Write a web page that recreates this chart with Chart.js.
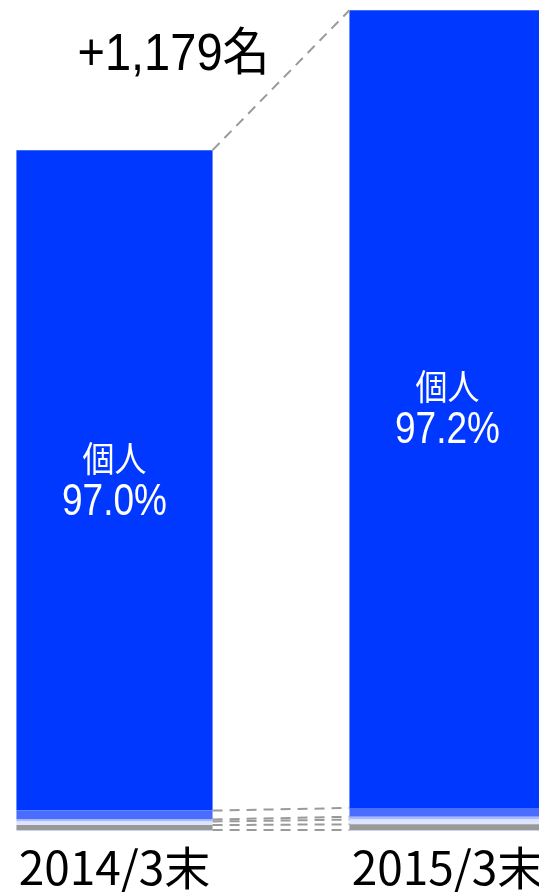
<!DOCTYPE html>
<html>
<head>
<meta charset="utf-8">
<script src="https://cdn.jsdelivr.net/npm/chart.js@4"></script>
<style>
  html, body { margin: 0; padding: 0; background: #fff; overflow: hidden; }
  body { width: 539px; height: 892px; position: relative; }
  /* chart is wider than the page: the right bar is cut off at the edge */
  #wrap { position: absolute; left: -52px; top: 0; width: 666px; height: 892px; }
</style>
</head>
<body>
<div id="wrap"><canvas id="holderChart"></canvas></div>
<script>
// ========================
// DATA (shareholders, persons)
// ========================
const periods = ['2014/3末', '2015/3末'];

// stacked bottom -> top
const selfHeld    = [8, 8];
const foreign     = [42, 48];
const otherCorp   = [30, 40];
const securities  = [17, 24];
const financial   = [75, 74];
const individuals = [5563, 6720];

const yMax = 7000;

const segColors = ['#c9d3f2', '#999999', '#dde4ff', '#a9b9ff', '#4a6dff', '#0038ff'];

// draw text stretched vertically (reference glyphs are taller than wide)
function tallText(ctx, text, x, y, sy) {
  ctx.save();
  ctx.translate(x, y);
  ctx.scale(1, sy);
  ctx.fillText(text, 0, 0);
  ctx.restore();
}

// ========================
// PLUGIN: dashed connectors + labels
// ========================
const connectorPlugin = {
  id: 'connectors',
  afterDatasetsDraw(chart) {
    const ctx = chart.ctx;
    const n = chart.data.datasets.length;

    ctx.save();
    ctx.strokeStyle = '#9a9a9a';
    ctx.lineWidth = 2;
    ctx.setLineDash([10, 7]);
    for (let i = 0; i < n; i++) {
      const meta = chart.getDatasetMeta(i);
      const a = meta.data[0], b = meta.data[1];
      ctx.beginPath();
      ctx.moveTo(a.x + a.width / 2, a.y);
      ctx.lineTo(b.x - b.width / 2, b.y);
      ctx.stroke();
    }
    ctx.restore();

    // labels inside the individuals segment
    const top = chart.getDatasetMeta(n - 1);
    const totals = periods.map((p, i) => chart.data.datasets.reduce((s, d) => s + d.data[i], 0));
    ctx.save();
    ctx.fillStyle = '#ffffff';
    ctx.textAlign = 'center';
    ctx.textBaseline = 'middle';
    top.data.forEach((el, i) => {
      const mid = (el.y + el.base) / 2;
      ctx.font = '32px "Noto Sans CJK JP"';
      tallText(ctx, '個人', el.x, mid - 22, 1.1);
      ctx.font = '37px "Liberation Sans", "Noto Sans CJK JP"';
      tallText(ctx, (individuals[i] / totals[i] * 100).toFixed(1) + '%', el.x, mid + 22, 1.2);
    });
    ctx.restore();

    // increase label
    const first = top.data[0];
    const diff = totals[1] - totals[0];
    ctx.save();
    ctx.fillStyle = '#000000';
    ctx.textAlign = 'center';
    ctx.textBaseline = 'middle';
    ctx.font = '47px "Liberation Sans", "Noto Sans CJK JP"';
    tallText(ctx, '+' + diff.toLocaleString('en-US') + '名', first.x + 59, 56, 1.1);
    ctx.restore();
  }
};

// ========================
// CHART
// ========================
const ctx = document.getElementById('holderChart').getContext('2d');
const mk = (label, data, color) => ({
  label: label,
  data: data,
  backgroundColor: color,
  borderWidth: 0,
  categoryPercentage: 1,
  barPercentage: 0.589
});

new Chart(ctx, {
  type: 'bar',
  data: {
    labels: periods,
    datasets: [
      mk('自己名義株式', selfHeld, segColors[0]),
      mk('外国法人等', foreign, segColors[1]),
      mk('その他の法人', otherCorp, segColors[2]),
      mk('証券会社', securities, segColors[3]),
      mk('金融機関', financial, segColors[4]),
      mk('個人', individuals, segColors[5])
    ]
  },
  options: {
    responsive: true,
    maintainAspectRatio: false,
    animation: false,
    layout: { padding: 0 },
    plugins: {
      legend: { display: false },
      tooltip: { enabled: false }
    },
    scales: {
      x: {
        stacked: true,
        grid: { display: false, drawTicks: false },
        border: { display: false },
        afterFit: (scale) => { scale.height = 61; },
        ticks: {
          color: '#000',
          padding: 14,
          font: { family: '"Noto Sans CJK JP"', size: 46, lineHeight: 1.0 }
        }
      },
      y: {
        stacked: true,
        display: false,
        min: 0,
        max: yMax
      }
    }
  },
  plugins: [connectorPlugin]
});
</script>
</body>
</html>
